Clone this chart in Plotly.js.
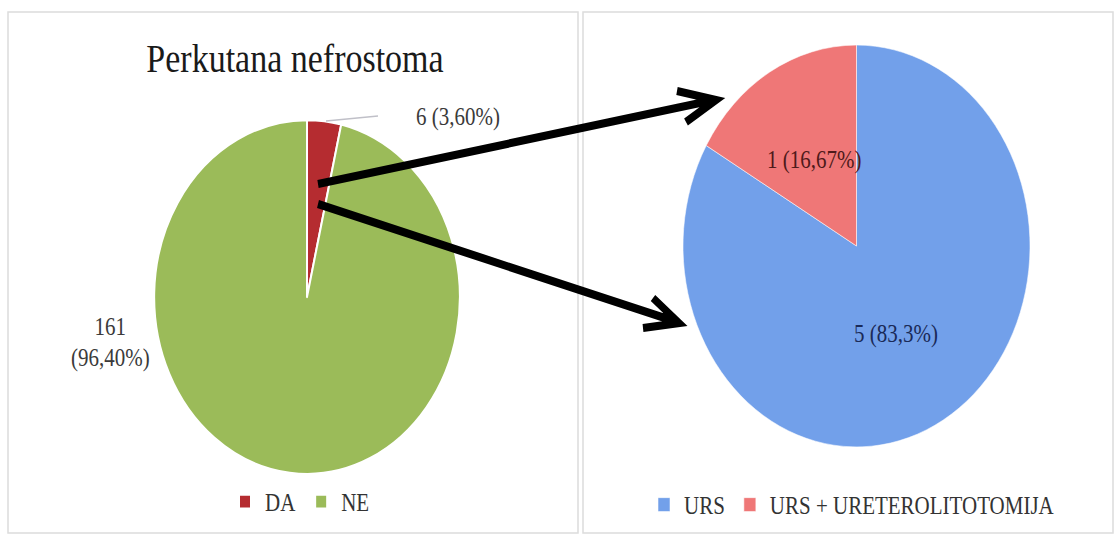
<!DOCTYPE html>
<html>
<head>
<meta charset="utf-8">
<script src="https://cdn.plot.ly/plotly-3.0.1.min.js"></script>
<style>
html,body{margin:0;padding:0;background:#fff;overflow:hidden;}
#wrap{width:1116px;height:535px;overflow:hidden;}
#plot{width:1116px;height:462px;transform:scaleY(1.158);transform-origin:0 0;}
</style>
</head>
<body>
<div id="wrap"><div id="plot"></div></div>
<script>
// ---- data ----
const leftTitle = "Perkutana nefrostoma";
const leftLabels = ["DA", "NE"];
const leftValues = [6, 161];
const leftPct = ["3,60%", "96,40%"];
const leftColors = ["#b52c30", "#9bbb59"];

const rightLabels = ["URS", "URS + URETEROLITOTOMIJA"];
const rightValues = [5, 1];
const rightPct = ["83,3%", "16,67%"];
const rightColors = ["#72a0ea", "#ef7777"];

// ---- geometry helpers (reference pixels -> paper) ----
const W = 1116, H = 462, S = 535 / 462;
const fx = x => x / W;
const fy = y => 1 - (y / S) / H;
const P = (x, y) => fx(x).toFixed(5) + "," + fy(y).toFixed(5);

const serif = "Liberation Serif, Times New Roman, serif";

const traces = [
  {
    type: "pie",
    labels: leftLabels,
    values: leftValues,
    sort: false,
    direction: "clockwise",
    rotation: 0,
    textinfo: "none",
    hoverinfo: "label+value+percent",
    marker: {colors: leftColors, line: {color: "#ffffff", width: 2}},
    domain: {x: [fx(154), fx(460)], y: [fy(474), fy(120)]},
    legend: "legend",
    showlegend: true
  },
  {
    type: "pie",
    labels: rightLabels,
    values: rightValues,
    sort: false,
    direction: "clockwise",
    rotation: 0,
    textinfo: "none",
    hoverinfo: "label+value+percent",
    marker: {colors: rightColors, line: {color: "#ffffff", width: 0.5}},
    domain: {x: [fx(683), fx(1030)], y: [fy(447), fy(45)]},
    legend: "legend2",
    showlegend: true
  }
];

const annotations = [
  {text: leftValues[0] + " (" + leftPct[0] + ")", x: fx(458), y: fy(117), color: "#3a3a3a", xa: "center"},
  {text: leftValues[1] + "<br>(" + leftPct[1] + ")", x: fx(152), y: fy(342), color: "#3a3a3a", xa: "right"},
  {text: rightValues[1] + " (" + rightPct[1] + ")", x: fx(814), y: fy(160), color: "#4e1a1a", xa: "center"},
  {text: rightValues[0] + " (" + rightPct[0] + ")", x: fx(896), y: fy(333), color: "#1a2a58", xa: "center"}
].map(a => ({
  text: a.text, x: a.x, y: a.y, xref: "paper", yref: "paper",
  xanchor: a.xa, yanchor: "middle", showarrow: false, align: "center",
  font: {family: serif, size: 21, color: a.color}
}));

const arrowStyle = {color: "#000000", width: 7};
const shapes = [
  // panel frames
  {type: "rect", xref: "paper", yref: "paper", x0: fx(8), x1: fx(578), y0: fy(533), y1: fy(12),
   line: {color: "#dcdcdc", width: 1.5}},
  {type: "rect", xref: "paper", yref: "paper", x0: fx(583), x1: fx(1113), y0: fy(533), y1: fy(12),
   line: {color: "#dcdcdc", width: 1.5}},
  // leader line
  {type: "line", xref: "paper", yref: "paper", x0: fx(326), y0: fy(121), x1: fx(378), y1: fy(116),
   line: {color: "#c0c0c8", width: 1.5}},
  // arrows
  {type: "path", xref: "paper", yref: "paper",
   path: "M" + P(318, 184) + "L" + P(714, 100) + "M" + P(677, 91) + "L" + P(716, 100) + "L" + P(686, 122),
   line: arrowStyle},
  {type: "path", xref: "paper", yref: "paper",
   path: "M" + P(318, 204) + "L" + P(677, 322) + "M" + P(653, 298) + "L" + P(679, 323) + "L" + P(643, 328),
   line: arrowStyle}
];

const layout = {
  width: W, height: H,
  margin: {l: 0, r: 0, t: 0, b: 0},
  paper_bgcolor: "#ffffff",
  plot_bgcolor: "#ffffff",
  title: {
    text: leftTitle, xref: "paper", yref: "paper",
    x: fx(295), y: fy(58), xanchor: "center", yanchor: "middle",
    font: {family: serif, size: 34, color: "#1a1a1a"}
  },
  legend: {
    orientation: "h", x: fx(300), y: fy(502), xanchor: "center", yanchor: "middle",
    font: {family: serif, size: 21, color: "#333333"}, bgcolor: "rgba(0,0,0,0)",
    itemwidth: 30, tracegroupgap: 0, traceorder: "normal"
  },
  legend2: {
    orientation: "h", x: fx(852), y: fy(505), xanchor: "center", yanchor: "middle",
    font: {family: serif, size: 21, color: "#333333"}, bgcolor: "rgba(0,0,0,0)",
    itemwidth: 30, tracegroupgap: 0, traceorder: "normal"
  },
  annotations: annotations,
  shapes: shapes,
  showlegend: true
};

Plotly.newPlot("plot", traces, layout, {displayModeBar: false, staticPlot: true});
</script>
</body>
</html>
